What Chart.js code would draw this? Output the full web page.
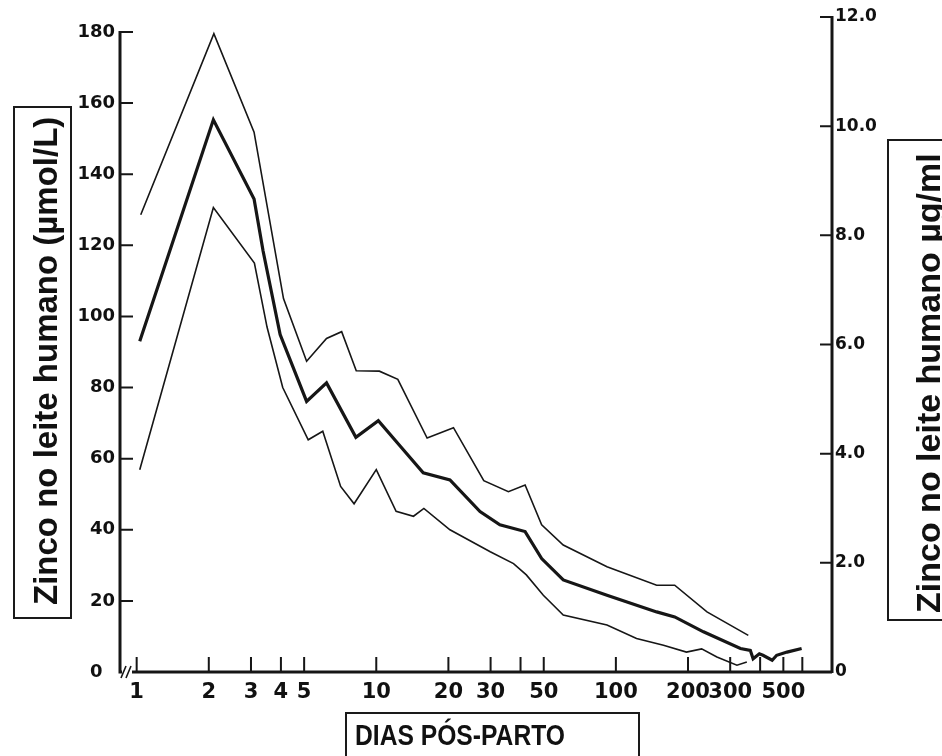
<!DOCTYPE html>
<html><head><meta charset="utf-8">
<script src="https://cdn.jsdelivr.net/npm/chart.js@4.4.1/dist/chart.umd.min.js"></script>
<style>
html,body{margin:0;padding:0;background:#fff;}
#wrap{position:relative;width:942px;height:756px;overflow:hidden;background:#fff;}
#c{position:absolute;left:0;top:0;}
.box{position:absolute;border:2px solid #1a1a1a;box-sizing:border-box;}
.vt{position:absolute;font-family:"Liberation Sans",Arial,sans-serif;font-weight:bold;color:#111;white-space:nowrap;line-height:1;transform-origin:0 0;transform:rotate(-90deg);}
.ht{position:absolute;font-family:"Liberation Sans",Arial,sans-serif;font-weight:bold;color:#111;white-space:nowrap;line-height:1;transform-origin:0 0;transform:scaleX(0.85);}
</style></head>
<body><div id="wrap">
<canvas id="c" width="942" height="756"></canvas>
<div class="box" style="left:13px;top:106px;width:59px;height:513px;"></div>
<div class="vt" style="left:29px;top:605px;font-size:33px;">Zinco no leite humano (µmol/L)</div>
<div class="box" style="left:887px;top:139px;width:80px;height:482px;"></div>
<div class="vt" style="left:911px;top:613px;font-size:34px;">Zinco no leite humano µg/ml</div>
<div class="box" style="left:345px;top:712px;width:295px;height:70px;"></div>
<div class="ht" style="left:355px;top:721px;font-size:29px;">DIAS PÓS-PARTO</div>
</div>
<script>
// ---- data ----
const upperDays = [1.04, 2.1, 3.09, 4.1, 5.12, 6.2, 7.17, 8.25, 10.3, 12.3, 16.3, 21.0, 28.1, 35.6, 41.8, 49.0, 60.3, 91.8, 148, 176, 240, 357];
const upperVals = [128.6, 179.5, 151.8, 105, 87.4, 93.8, 95.7, 84.7, 84.6, 82.3, 65.8, 68.7, 53.8, 50.7, 52.6, 41.4, 35.7, 29.6, 24.4, 24.4, 16.9, 10.3];

const meanDays = [1.03, 2.09, 3.09, 3.37, 3.97, 5.12, 6.2, 8.22, 10.2, 12.6, 15.7, 20.3, 27.1, 32.8, 41.8, 49, 60.3, 91.8, 148, 176, 232, 331, 364, 374, 397, 411, 449, 469, 518, 596];
const meanVals = [93, 155.3, 133, 118.4, 94.9, 76.1, 81.3, 66, 70.7, 63.5, 56, 54, 45.1, 41.4, 39.5, 31.9, 25.9, 21.6, 16.9, 15.5, 11.3, 6.6, 6.1, 3.7, 5.1, 4.7, 3.3, 4.7, 5.6, 6.6];

const lowerDays = [1.03, 2.09, 3.1, 3.5, 4.07, 5.2, 5.98, 7.1, 8.08, 10.0, 12.1, 14.3, 15.8, 20.3, 29.9, 37.4, 42.3, 49.8, 60.3, 91.8, 122, 158, 197, 228, 264, 320, 352];
const lowerVals = [56.9, 130.6, 115, 97, 80, 65.3, 67.7, 52.2, 47.3, 56.9, 45.2, 43.8, 46, 40, 33.8, 30.5, 27.3, 21.6, 16, 13.2, 9.4, 7.5, 5.6, 6.5, 4.2, 1.9, 2.8];

const xTickValues = [1, 2, 3, 4, 5, 10, 20, 30, 40, 50, 100, 200, 300, 400, 500, 600];
const xTickLabels = ['1', '2', '3', '4', '5', '10', '20', '30', '', '50', '100', '200', '300', '', '500', ''];
const leftTickMax = 180;   // µmol/L
const rightTickMax = 12;   // µg/ml

const pts = (xs, ys) => xs.map((d, i) => ({x: d, y: ys[i]}));
const INK = '#161616';
const TICK_FONT = 'DejaVu Sans, Verdana, sans-serif';

const axisPlugin = {
  id: 'inwardAxes',
  afterDraw(chart) {
    const {ctx, chartArea: a, scales} = chart;
    const x = scales.x, y = scales.y, y2 = scales.y2;
    ctx.save();
    ctx.strokeStyle = INK;
    ctx.lineCap = 'butt';
    const top180 = y.getPixelForValue(leftTickMax);
    ctx.lineWidth = 3;
    ctx.beginPath();
    ctx.moveTo(a.left, top180 - 1);
    ctx.lineTo(a.left, a.bottom);
    ctx.lineTo(a.right, a.bottom);
    ctx.moveTo(a.right, a.top - 1);
    ctx.lineTo(a.right, a.bottom + 1);
    ctx.stroke();
    ctx.lineWidth = 2;
    ctx.beginPath();
    y.ticks.forEach(t => { const p = y.getPixelForValue(t.value); if (t.value > 0) { ctx.moveTo(a.left, p); ctx.lineTo(a.left + 13, p); } });
    y2.ticks.forEach(t => { const p = y2.getPixelForValue(t.value); if (t.value > 0) { ctx.moveTo(a.right - 12, p); ctx.lineTo(a.right, p); } });
    x.ticks.forEach(t => { const p = x.getPixelForValue(t.value); ctx.moveTo(p, a.bottom); ctx.lineTo(p, a.bottom - 15); });
    ctx.stroke();
    // axis break mark
    ctx.fillStyle = '#fff';
    ctx.fillRect(a.left + 2, a.bottom - 2, 10, 4);
    ctx.lineWidth = 1.6;
    ctx.beginPath();
    ctx.moveTo(a.left + 1, a.bottom + 6); ctx.lineTo(a.left + 6, a.bottom - 6);
    ctx.moveTo(a.left + 6, a.bottom + 6); ctx.lineTo(a.left + 11, a.bottom - 6);
    ctx.stroke();
    ctx.restore();
  }
};

new Chart(document.getElementById('c'), {
  type: 'line',
  data: {
    datasets: [
      {label: 'upper', data: pts(upperDays, upperVals), borderColor: INK, borderWidth: 1.6, yAxisID: 'y'},
      {label: 'mean', data: pts(meanDays, meanVals), borderColor: INK, borderWidth: 3.2, yAxisID: 'y'},
      {label: 'lower', data: pts(lowerDays, lowerVals), borderColor: INK, borderWidth: 1.6, yAxisID: 'y'}
    ]
  },
  options: {
    responsive: false,
    animation: false,
    events: [],
    elements: {point: {radius: 0}, line: {tension: 0, fill: false, borderJoinStyle: 'miter'}},
    layout: {padding: {top: 17, left: 0, right: 0, bottom: 0}},
    plugins: {legend: {display: false}, tooltip: {enabled: false}},
    scales: {
      x: {
        type: 'logarithmic',
        min: 0.852, max: 798,
        grid: {display: false, drawTicks: false},
        border: {display: false},
        afterBuildTicks: s => { s.ticks = xTickValues.map(v => ({value: v})); },
        afterFit: s => { s.height = 84; },
        ticks: {
          autoSkip: false, maxRotation: 0, minRotation: 0, padding: 8, color: '#111',
          font: {family: TICK_FONT, size: 21, weight: 'bold'},
          callback: (v, i) => xTickLabels[i]
        }
      },
      y: {
        position: 'left',
        min: 0, max: 184.2,
        grid: {display: false, drawTicks: false},
        border: {display: false},
        afterFit: s => { s.width = 120; },
        ticks: {
          stepSize: 20, includeBounds: false, padding: 5, color: '#111',
          font: {family: TICK_FONT, size: 18, weight: 'bold'},
          callback: v => v === 0 ? '0  ' : String(v)
        }
      },
      y2: {
        position: 'right',
        min: 0, max: rightTickMax,
        grid: {display: false, drawTicks: false},
        border: {display: false},
        afterFit: s => { s.width = 110; },
        ticks: {
          stepSize: 2, padding: 3, color: '#111',
          font: {family: TICK_FONT, size: 17, weight: 'bold'},
          callback: v => v === 0 ? '0' : Number(v).toFixed(1)
        }
      }
    }
  },
  plugins: [axisPlugin]
});
</script>
</body></html>
